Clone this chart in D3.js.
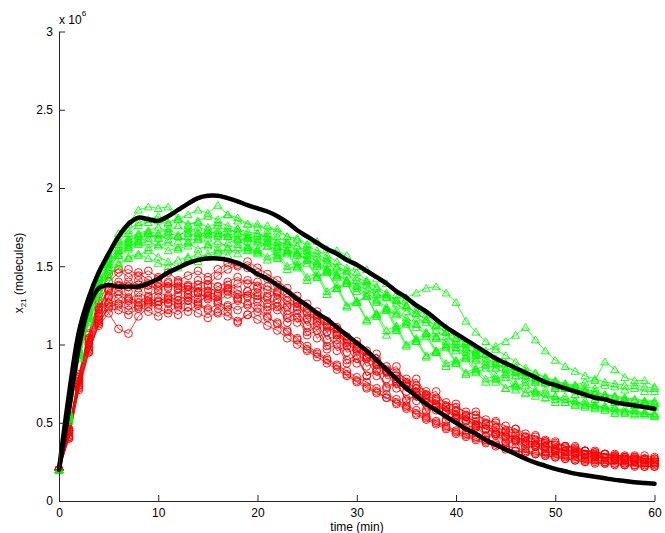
<!DOCTYPE html>
<html><head><meta charset="utf-8">
<script src="https://cdn.jsdelivr.net/npm/d3@7"></script>
<style>
body{margin:0;background:#fff}
text{font-family:Helvetica,"Liberation Sans",Arial,sans-serif}
</style>
</head><body>
<svg id="chart" width="665" height="533"></svg>
<script>
// time in minutes (sampled every minute)
const time = d3.range(0, 61);
const xTicks = [0, 10, 20, 30, 40, 50, 60];
const yTicks = [0, 0.5e6, 1e6, 1.5e6, 2e6, 2.5e6, 3e6];
const yTickLabels = ["0", "0.5", "1", "1.5", "2", "2.5", "3"];
// all series values in units of 10^4 molecules
const unit = 1e4;
const detUpper = [20,68,108,130,146,158,169,177,181,180, 179,182,186,190,193.5,195,195,193.5,191.5,189, 187,185,182,178,173,169,165,161,158,154, 151,147,143,139,134,130,125,121,116,111, 107,103,99,95,91,88,85,82,79,76, 74,72,70,68,66,65,63,62,61,60, 59];
const detLower = [20,58,98,124,136,138,137,137,137,139, 142,146,149,152,154,155,155,154,152,149, 145,142,138,134,129,125,120,116,111,106, 101,96,90,84,78,72,67,62,58,54, 50,46,43,39,36,33,30,27,24.5,22.5, 20.5,19,17.5,16.5,15.5,14.5,13.5,12.8,12,11.5, 11];

const green1 = [20,57,100,125,145,158,171,177,186,188, 187,188,180,183,186,184,189,183,181,177, 177,173,174,169,168,164,166,161,160,157, 150,148,142,139,132,129,122,119,113,111, 104,102,96,94,89,88,83,82,77,76, 72,72,68,68,65,66,63,64,61,63, 62];
const green2 = [20,54,95,120,138,152,160,166,170,172, 171,174,170,172,175,173,176,172,174,170, 171,168,169,165,163,160,158,154,150,147, 143,140,136,131,128,124,120,116,112,108, 100,97,95,96,99,102,106,111,103,96, 90,86,83,80,78,76,75,74,74,73, 72];
const green3 = [20,56,97,119,137,151,158,165,167,171, 168,170,166,169,172,170,173,169,167,168, 165,166,162,160,158,154,150,147,143,139, 134,131,127,122,119,115,111,107,104,100, 96,93,90,87,85,82,80,78,76,75, 73,72,74,76,77,89,84,79,77,77, 73];
const green4 = [20,52,93,117,134,148,157,162,166,168, 170,167,169,166,168,171,169,170,168,166, 166,163,161,160,157,155,151,148,144,141, 138,135,132,130,129,130,133,136,137,133, 127,115,108,102,97,93,89,85,82,79, 76,74,72,70,68,67,66,65,64,63, 62];
const green5 = [20,52,92,115,131,143,152,156,158,155, 152,150,154,156,153,158,160,157,162,160, 158,163,155,158,149,152,143,146,136,139, 127,131,119,123,111,114,103,107,96,99, 89,92,84,87,78,81,73,76,69,71, 65,67,62,64,60,61,57,59,56,57, 55];
const green6 = [20,55,97,122,140,155,164,168,171,173, 175,172,176,171,169,173,170,174,171,169, 167,171,163,166,158,161,152,155,144,147, 137,140,129,132,122,125,113,116,105,108, 98,100,91,94,85,88,80,82,76,78, 72,73,68,70,65,66,63,64,61,62, 60];
const green7 = [20,54,94,118,136,151,160,163,165,162, 164,160,162,165,161,163,166,162,164,161, 160,156,159,150,153,143,146,134,138,125, 128,116,120,109,112,100,104,93,96,88, 90,82,85,78,80,72,75,69,71,66, 67,63,64,60,61,58,59,56,58,55, 56];
const green8 = [20,56,98,123,142,157,166,171,176,178, 179,177,180,177,178,175,178,176,174,172, 171,169,166,164,163,158,156,152,149,145, 141,138,133,130,126,121,117,114,109,105, 102,98,94,91,88,85,83,80,78,76, 74,73,71,70,69,68,67,66,65,64, 64];
const green9 = [20,53,93,117,134,149,157,161,164,166, 163,165,161,163,167,164,162,165,167,163, 161,165,156,159,150,154,143,147,136,140, 127,131,118,122,109,113,102,105,95,98, 88,91,82,85,76,79,71,74,67,69, 63,65,61,62,59,60,56,57,55,56, 54];
const green10 = [20,55,96,121,139,153,162,167,169,171, 168,172,169,174,171,168,171,169,172,168, 169,166,165,161,159,157,153,149,145,141, 136,133,128,124,120,117,113,108,105,102, 98,95,93,89,87,84,82,80,79,77, 76,75,74,73,72,74,73,71,72,70, 70];
const green11 = [20,56,97,123,143,158,167,173,178,180, 182,178,181,176,179,182,180,183,179,177, 175,176,172,169,167,163,160,157,153,149, 146,141,137,133,128,125,120,116,112,108, 104,101,97,94,91,88,86,83,81,79, 77,75,73,71,70,68,67,66,65,64, 63];
const green12 = [20,51,91,114,130,144,151,155,157,160, 156,153,149,155,158,156,159,161,158,162, 159,154,157,148,151,141,144,132,136,124, 127,115,119,106,110,99,102,92,95,86, 88,81,83,76,78,72,74,69,70,66, 67,63,64,61,62,59,60,57,58,56, 55];

const red1 = [20,46,80,106,126,140,146,148,144,147, 143,146,141,144,147,143,148,152,150,153, 149,145,141,136,131,126,121,115,110,105, 100,96,91,86,82,78,74,70,66,63, 60,57,55,52,50,48,46,43,41,39, 37,35,34,32,31,30,29,29,28,29, 28];
const red2 = [20,41,73,96,112,120,110,107,118,124, 128,126,131,128,133,130,128,132,129,134, 131,124,127,117,120,108,112,99,103,90, 93,80,84,73,76,64,68,57,60,51, 53,45,47,41,42,37,38,34,35,31, 31,29,29,27,27,25,26,24,25,24, 24];
const red3 = [20,45,79,103,122,134,138,140,136,139, 142,137,139,135,138,141,137,140,143,139, 140,137,134,130,126,121,117,112,107,102, 97,92,87,83,78,74,70,66,62,58, 55,52,49,46,44,42,40,38,36,35, 33,32,31,30,29,28,27,27,26,26, 25];
const red4 = [20,40,72,95,113,124,126,122,125,121, 118,122,119,124,120,117,121,118,115,119, 116,112,109,104,100,96,92,88,84,80, 76,72,69,66,63,60,56,53,50,47, 44,42,40,38,36,34,32,31,30,29, 28,27,26,25,25,24,24,23,23,22, 22];
const red5 = [20,43,76,100,118,130,132,128,133,130, 127,131,128,132,129,134,131,135,132,130, 133,126,129,119,122,112,114,103,106,95, 97,86,89,78,80,70,72,63,65,57, 58,51,53,46,47,41,42,38,38,35, 34,32,32,30,30,28,28,27,27,26, 25];
const red6 = [20,46,81,107,128,145,148,143,146,141, 137,140,135,138,134,137,133,136,139,141, 137,135,132,128,124,120,115,111,106,101, 96,92,87,82,78,73,69,65,61,57, 54,51,48,46,43,41,39,37,35,34, 32,31,30,29,28,28,27,26,26,25, 25];
const red7 = [20,42,74,98,116,126,129,125,129,126, 130,127,124,128,125,122,126,121,114,119, 123,118,113,108,103,97,94,90,86,81, 77,73,70,66,62,59,55,52,49,46, 43,41,39,37,35,33,32,31,30,29, 28,27,26,25,24,24,23,23,22,22, 22];
const red8 = [20,44,77,101,120,131,134,130,127,131, 134,130,133,137,133,129,132,138,135,131, 129,131,122,125,114,117,104,108,96,99, 88,91,80,83,72,75,64,67,58,60, 52,54,47,49,43,44,39,40,36,37, 33,34,31,32,29,30,28,28,27,27, 26];
const red9 = [20,45,78,104,123,135,137,134,138,135, 139,136,140,137,141,138,144,148,151,149, 146,142,138,133,128,123,118,113,108,103, 98,93,88,84,80,76,72,68,64,60, 57,54,51,49,47,45,43,41,39,38, 36,35,33,32,31,30,29,28,28,27, 27];
const red10 = [20,40,71,95,114,123,122,119,123,127, 123,120,125,121,126,123,120,125,122,126, 121,117,114,109,104,99,95,91,87,83, 79,76,72,68,65,61,58,54,51,48, 45,43,41,39,37,35,34,32,31,30, 29,28,27,26,26,25,24,24,23,23, 23];
const red11 = [20,45,79,104,124,136,140,137,141,138, 135,139,136,132,136,133,137,134,130,134, 136,130,133,124,127,116,119,108,111,99, 102,91,94,83,86,75,78,68,70,61, 62,55,57,50,51,45,46,41,42,38, 38,35,35,32,32,30,30,28,29,27, 27];
const red12 = [20,41,74,97,115,127,125,129,124,128, 125,129,126,130,127,131,127,124,128,125, 127,122,124,114,117,106,109,97,100,88, 91,80,83,72,75,65,67,58,60,52, 53,47,48,42,43,38,39,35,35,32, 32,30,30,28,28,27,26,26,25,25, 24];

const greenRuns = [green1,green2,green3,green4,green5,green6,green7,green8,green9,green10,green11,green12];
const redRuns = [red1,red2,red3,red4,red5,red6,red7,red8,red9,red10,red11,red12];

const svg = d3.select("#chart");
const x = d3.scaleLinear().domain([0, 60]).range([59, 654.5]);
const y = d3.scaleLinear().domain([0, 3e6]).range([501, 31.5]);

const line = d3.line().x((d, i) => x(time[i])).y(d => y(d * unit));
const smooth = d3.line().x((d, i) => x(time[i])).y(d => y(d * unit)).curve(d3.curveCatmullRom.alpha(0.5));

// red trajectories
redRuns.forEach(run => {
  svg.append("path").attr("d", line(run)).attr("fill", "none")
    .attr("stroke", "#ff0000").attr("stroke-width", 0.8);
  svg.append("g").selectAll("circle").data(run).join("circle")
    .attr("cx", (d, i) => x(time[i])).attr("cy", d => y(d * unit)).attr("r", 3.9)
    .attr("fill", "none").attr("stroke", "#ff0000").attr("stroke-width", 0.9);
});
// green trajectories
const tri = "M0,-3.7L4,3.1L-4,3.1Z";
greenRuns.forEach(run => {
  svg.append("path").attr("d", line(run)).attr("fill", "none")
    .attr("stroke", "#00ff00").attr("stroke-width", 0.8);
  svg.append("g").selectAll("path").data(run).join("path")
    .attr("d", tri)
    .attr("transform", (d, i) => `translate(${x(time[i])},${y(d * unit)})`)
    .attr("fill", "none").attr("stroke", "#00ff00").attr("stroke-width", 0.9);
});
// deterministic curves
[detUpper, detLower].forEach(c => {
  svg.append("path").attr("d", smooth(c)).attr("fill", "none")
    .attr("stroke", "#000").attr("stroke-width", 4.5).attr("stroke-linecap", "round");
});

// axes
const yAxis = d3.axisLeft(y).tickValues(yTicks)
  .tickFormat((d, i) => yTickLabels[i]).tickSize(-6).tickSizeOuter(0).tickPadding(6);
const gy = svg.append("g").attr("transform", "translate(59,0)").call(yAxis);
const xAxis = d3.axisBottom(x).tickValues(xTicks).tickSize(-6).tickSizeOuter(0).tickPadding(7);
const gx = svg.append("g").attr("transform", "translate(0,501)").call(xAxis);
[gx, gy].forEach(g => {
  g.select(".domain").attr("stroke", "#262626").attr("stroke-width", 1);
  g.selectAll(".tick line").attr("stroke", "#262626");
  g.selectAll("text").attr("font-size", 12).attr("fill", "#000")
    .attr("font-family", "Helvetica,'Liberation Sans',Arial,sans-serif");
});

// exponent label
const ex = svg.append("text").attr("x", 59).attr("y", 24).attr("font-size", 12);
ex.append("tspan").text("x 10");
ex.append("tspan").attr("font-size", 8).attr("dy", -8).text("6");

// axis labels
svg.append("text").attr("x", 357).attr("y", 531).attr("text-anchor", "middle")
  .attr("font-size", 12).text("time (min)");
const yl = svg.append("text").attr("transform", "translate(23,273) rotate(-90)")
  .attr("text-anchor", "middle").attr("font-size", 12);
yl.append("tspan").text("x");
yl.append("tspan").attr("font-size", 8).attr("dy", 3).text("21");
yl.append("tspan").attr("dy", -3).text(" (molecules)");
</script>
</body></html>
